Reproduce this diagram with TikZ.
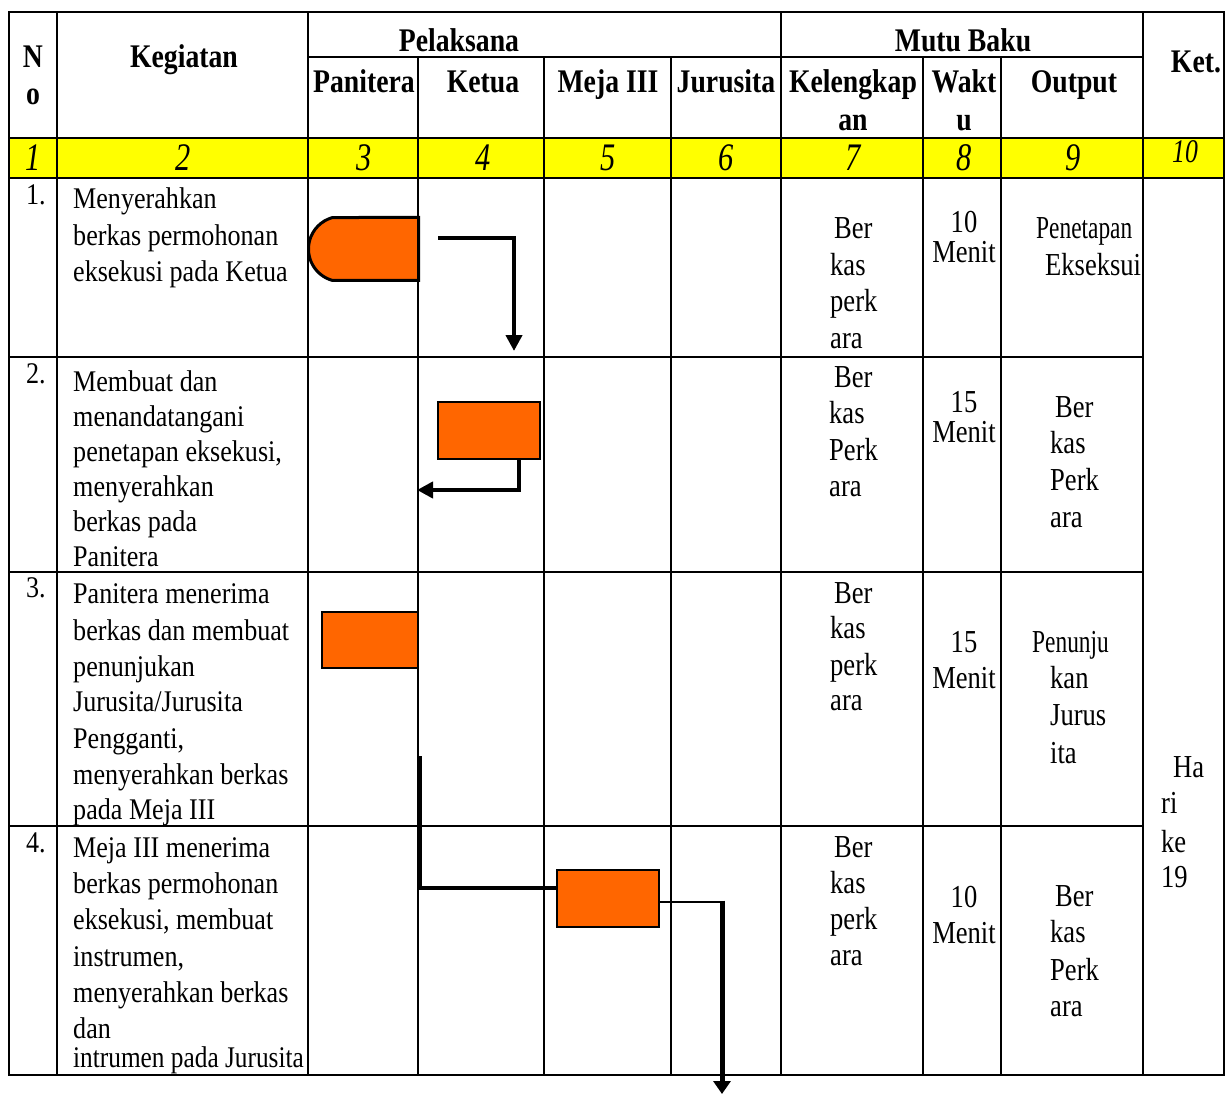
\documentclass[tikz,border=0pt]{standalone}
\usepackage{fontspec}
\usepackage{graphicx}
\setmainfont{Liberation Serif}
\newfontfamily\fhead[FakeStretch=0.84]{Liberation Serif}
\newfontfamily\fbody[FakeStretch=0.87]{Liberation Serif}
\newfontfamily\fnarrow[FakeStretch=0.83]{Liberation Serif}
\newfontfamily\fyel[FakeStretch=0.78]{Liberation Serif}
\usetikzlibrary{arrows.meta,shapes.misc}
\definecolor{orng}{HTML}{FF6600}
\definecolor{yel}{HTML}{FFFF00}
\newcommand\tlines[4]{%
  \foreach \yyy/\ttx [count=\nnn] in {#4} {\node[#1] (#2\nnn) at (#3,\yyy) {\ttx};}}
\begin{document}
\begin{tikzpicture}[x=1pt,y=-1pt,
  grid/.style={line width=2.4pt},
  hd/.style={inner sep=0pt, anchor=base, font=\fhead\bfseries\fontsize{33}{36}\selectfont},
  yn/.style={inner sep=0pt, anchor=base, font=\fyel\itshape\fontsize{39}{40}\selectfont},
  bt/.style={inner sep=0pt, anchor=base west, font=\fbody\fontsize{30}{34}\selectfont},
  nt/.style={inner sep=0pt, anchor=base west, font=\fnarrow\fontsize{32}{34}\selectfont},
  ntc/.style={inner sep=0pt, anchor=base, font=\fnarrow\fontsize{32}{34}\selectfont},
  proc/.style={draw, line width=2pt, fill=orng, rectangle, inner sep=0pt},
  conn/.style={line width=4.5pt, -{Triangle[width=16pt,length=16pt]}}
]
\useasboundingbox (0,0) rectangle (1232,1094);
% yellow row
\fill[yel] (9,138) rectangle (1224,178);
% table grid
\draw[grid] (9,12) rectangle (1224,1075);
\draw[grid] (308,57) -- (1143,57);
\draw[grid] (9,138) -- (1224,138);
\draw[grid] (9,178) -- (1224,178);
\draw[grid] (9,357) -- (1143,357);
\draw[grid] (9,572) -- (1143,572);
\draw[grid] (9,826) -- (1143,826);
\draw[grid] (57,12) -- (57,1075);
\draw[grid] (308,12) -- (308,1075);
\draw[grid] (781,12) -- (781,1075);
\draw[grid] (1143,12) -- (1143,1075);
\foreach \xx in {418,544,671,923,1001} {\draw[grid] (\xx,57) -- (\xx,1075);}

% header
\node[hd] (hN) at (33,68) {N};
\node[hd] (ho) at (33,105) {o};
\node[hd] (hKeg) at (184,68) {Kegiatan};
\node[hd] (hPel) at (459,52) {Pelaksana};
\node[hd] (hMutu) at (963,52) {Mutu Baku};
\node[hd] (hPan) at (364,93) {Panitera};
\node[hd] (hKetua) at (483,93) {Ketua};
\node[hd] (hMeja) at (608,93) {Meja III};
\node[hd] (hJur) at (726,93) {Jurusita};
\node[hd] (hKel) at (853,93) {Kelengkap};
\node[hd] (hKel2) at (853,131) {an};
\node[hd] (hW) at (964,93) {Wakt};
\node[hd] (hW2) at (964,131) {u};
\node[hd] (hOut) at (1074,93) {Output};
\node[hd] (hKet) at (1196,73) {Ket.};

% yellow numbers
\foreach \xx/\nn [count=\cc] in {33/1,183/2,364/3,483/4,608/5,726/6,853/7,964/8,1073/9}
  {\node[yn] (y\cc) at (\xx,171) {\nn};}
\node[yn, font=\fyel\itshape\fontsize{33}{34}\selectfont] (y10) at (1185,163) {10};

% row numbers
\node[bt] (n1) at (26,205) {1.};
\node[bt] (n2) at (26,383) {2.};
\node[bt] (n3) at (26,597) {3.};
\node[bt] (n4) at (26,852) {4.};

% Kegiatan
\tlines{bt}{ka}{73}{209/Menyerahkan, 246/berkas permohonan, 282/eksekusi pada Ketua}
\tlines{bt}{kb}{73}{391/Membuat dan, 426/menandatangani, 461/{penetapan eksekusi,}, 496/menyerahkan, 531/berkas pada, 566/Panitera}
\tlines{bt}{kc}{73}{603/Panitera menerima, 640/berkas dan membuat, 676/penunjukan, 711/{Jurusita/Jurusita}, 748/{Pengganti,}, 784/menyerahkan berkas, 819/pada Meja III}
\tlines{bt}{kd}{73}{857/Meja III menerima, 893/berkas permohonan, 929/{eksekusi, membuat}, 966/{instrumen,}, 1002/menyerahkan berkas, 1038/dan}
\node[bt] (kd7) at (73,1067) {\scalebox{0.97}[1]{intrumen pada Jurusita}};

% Kelengkapan
\node[nt] (la1) at (834,239) {Ber};
\tlines{nt}{la}{830}{276/kas, 312/perk, 348/ara}
\node[nt] (lb1) at (834,387) {Ber};
\tlines{nt}{lb}{829}{423/kas, 460/Perk, 496/ara}
\node[nt] (lc1) at (834,603) {Ber};
\tlines{nt}{lc}{830}{638/kas, 675/perk, 710/ara}
\node[nt] (ld1) at (834,857) {Ber};
\tlines{nt}{ld}{830}{893/kas, 929/perk, 965/ara}

% Waktu
\tlines{ntc}{wa}{964}{233/10, 263/Menit}
\tlines{ntc}{wb}{964}{412/15, 442/Menit}
\tlines{ntc}{wc}{964}{652/15, 688/Menit}
\tlines{ntc}{wd}{964}{907/10, 943/Menit}

% Output
\node[nt] (oa1) at (1036,239) {\scalebox{0.88}[1]{Penetapan}};
\node[nt] (oa2) at (1045,276) {Ekseksui};
\node[nt] (ob1) at (1055,417) {Ber};
\tlines{nt}{ob}{1050}{453/kas, 490/Perk, 527/ara}
\node[nt] (oc1) at (1032,652) {\scalebox{0.88}[1]{Penunju}};
\tlines{nt}{oc}{1050}{688/kan, 725/Jurus, 763/ita}
\node[nt] (od1) at (1055,906) {Ber};
\tlines{nt}{od}{1050}{942/kas, 980/Perk, 1016/ara}

% Ket
\node[nt] (ke1) at (1173,777) {Ha};
\tlines{nt}{ke}{1161}{813/ri, 852/ke, 887/19}

% flow shapes
\node[draw, line width=3pt, fill=orng, rounded rectangle, rounded rectangle right arc=none,
      rounded rectangle arc length=150, minimum width=110pt, minimum height=63pt, inner sep=0pt]
      (t1) at (363.5,249) {};
\draw[grid] (418,200) -- (418,300);
\node[proc, minimum width=102pt, minimum height=57pt] (b2) at (489,430.5) {};
\node[proc, minimum width=96pt, minimum height=56pt] (b3) at (370,640) {};
\draw[grid] (418,600) -- (418,680);
\node[proc, minimum width=102pt, minimum height=57pt] (b4) at (608,898.5) {};

% connectors
\coordinate (c1s) at (438,238);
\coordinate (c1e) at (514,351);
\draw[conn] (c1s) -| (c1e);

\coordinate (c2x) at (519,490);
\coordinate (c2e) at (417,490);
\draw[conn] (b2.south -| c2x) |- (c2e);

\coordinate (c3s) at (420,756);
\coordinate (c3m) at (420,888);
\draw[line width=4.5pt] (c3s) -- ([yshift=-2.25pt]c3m);
\draw[line width=4.5pt] ([xshift=-2.25pt]c3m) -- (c3m -| b4.west);

\coordinate (c4k) at (722,902);
\coordinate (c4e) at (722,1094);
\draw[line width=2.8pt] (b4.east |- c4k) -- (c4k);
\draw[line width=5pt, -{Triangle[width=17pt,length=13pt]}] ([yshift=1.4pt]c4k) -- (c4e);
\end{tikzpicture}
\end{document}
